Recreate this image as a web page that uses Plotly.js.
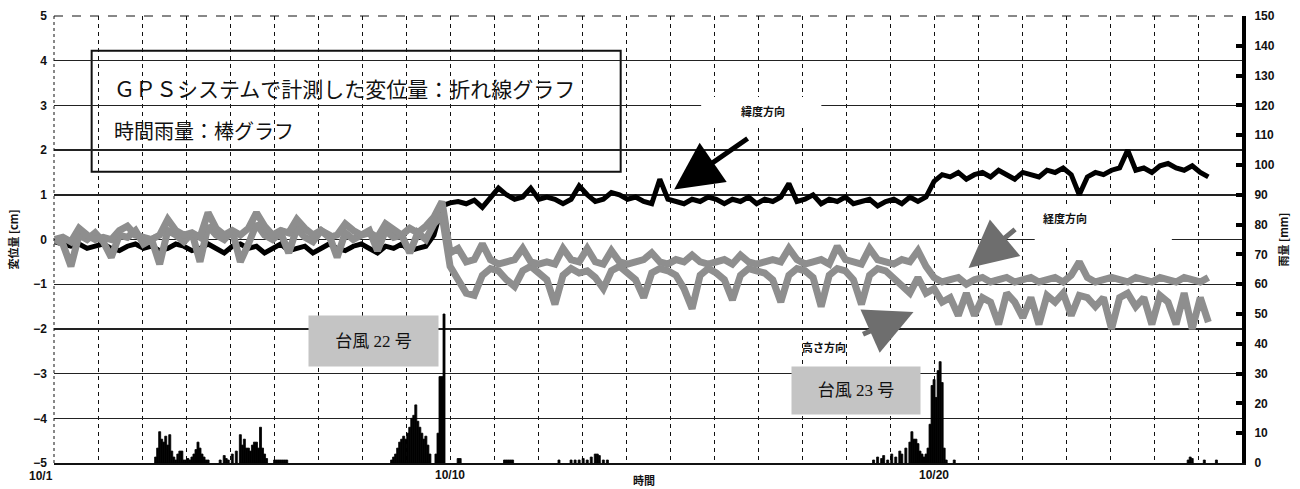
<!DOCTYPE html>
<html>
<head>
<meta charset="utf-8">
<script src="https://cdn.plot.ly/plotly-3.0.1.min.js"></script>
<style>html,body{margin:0;padding:0;background:#fff;}#chart{width:1300px;height:489px;}</style>
</head>
<body>
<div id="chart"></div>
<script>
// ---- time base (hours since 10/1 00:00), one GPS sample every 4 hours ----
const sampleStartHour = 20;
const sampleStepHour = 4;

// ---- GPS displacement [cm] ----
const latitudeCm = [
 -0.05,-0.1,-0.15,-0.1,-0.2,-0.15,-0.1,-0.2,-0.25,-0.15,-0.1,-0.2,
 -0.15,-0.25,-0.2,-0.1,-0.15,-0.25,-0.2,-0.1,-0.2,-0.3,-0.15,-0.1,
 -0.2,-0.15,-0.3,-0.2,-0.1,-0.25,-0.2,-0.15,-0.3,-0.2,-0.1,-0.2,
 -0.25,-0.15,-0.1,-0.2,-0.3,-0.15,-0.2,-0.1,-0.25,-0.2,-0.15,0.1,
 0.75,
 0.82,0.85,0.8,0.88,0.72,0.95,1.15,1.0,0.9,0.95,1.15,0.9,
 0.95,0.9,0.8,0.9,1.2,1.0,0.85,0.9,1.05,1.0,0.9,0.95,
 0.85,0.8,1.35,0.9,0.85,0.8,0.9,0.85,0.95,0.9,0.8,0.9,
 0.85,0.95,0.8,0.9,0.85,0.95,1.25,0.85,0.9,1.0,0.8,0.9,
 0.85,0.95,0.8,0.85,0.9,0.75,0.85,0.9,0.8,0.95,0.85,0.95,
 1.3,1.45,1.4,1.5,1.35,1.45,1.5,1.4,1.55,1.45,1.35,1.5,
 1.45,1.4,1.55,1.5,1.6,1.45,1.0,1.4,1.5,1.45,1.55,1.6,
 2.0,1.55,1.6,1.5,1.65,1.7,1.6,1.55,1.65,1.5,1.4
];
const longitudeCm = [
 0.0,0.05,-0.05,0.25,0.1,0.0,0.05,0.0,0.2,0.3,0.1,0.05,
 0.0,0.1,0.45,0.2,0.1,0.15,0.05,0.6,0.25,0.1,0.2,0.1,
 0.25,0.6,0.3,0.1,0.2,0.15,0.45,0.25,0.1,0.2,0.05,0.1,
 0.35,0.2,0.1,0.15,0.05,0.35,0.2,0.1,0.25,0.15,0.3,0.5,
 0.85,
 -0.3,-0.2,-0.5,-0.45,-0.1,-0.45,-0.55,-0.5,-0.45,-0.2,-0.5,-0.55,
 -0.5,-0.55,-0.2,-0.45,-0.5,-0.2,-0.5,-0.55,-0.25,-0.5,-0.55,-0.5,
 -0.45,-0.3,-0.5,-0.55,-0.45,-0.5,-0.35,-0.5,-0.55,-0.5,-0.45,-0.55,
 -0.35,-0.5,-0.55,-0.5,-0.45,-0.5,-0.2,-0.45,-0.55,-0.5,-0.45,-0.55,
 -0.15,-0.45,-0.5,-0.55,-0.2,-0.45,-0.5,-0.55,-0.45,-0.5,-0.25,-0.6,
 -0.85,-0.95,-0.9,-0.85,-1.0,-0.9,-0.85,-0.95,-0.9,-0.85,-0.95,-0.9,
 -0.85,-0.95,-0.9,-0.85,-0.95,-0.8,-0.5,-0.85,-0.95,-0.9,-0.85,-0.9,
 -0.95,-0.85,-0.9,-0.95,-0.85,-0.9,-0.95,-0.85,-0.9,-0.95,-0.85
];
const heightCm = [
 0.0,-0.1,-0.6,0.1,0.0,0.15,-0.05,-0.4,0.1,0.05,0.2,-0.1,
 0.0,-0.55,0.2,0.1,-0.05,0.15,-0.5,0.3,0.1,0.0,0.2,-0.5,
 -0.1,0.35,0.1,0.0,0.15,-0.3,0.25,0.05,-0.05,0.2,0.1,-0.4,
 0.15,0.0,0.1,0.2,-0.25,0.2,0.05,0.1,-0.3,0.15,0.0,0.35,
 0.55,
 -0.6,-0.9,-1.2,-1.25,-0.8,-0.65,-0.7,-0.9,-1.05,-0.7,-0.6,-0.75,
 -0.9,-1.45,-0.8,-0.65,-0.75,-0.7,-0.85,-1.1,-0.7,-0.6,-0.75,-0.9,
 -1.3,-0.75,-0.65,-0.7,-0.8,-1.1,-1.55,-0.8,-0.65,-0.75,-0.9,-1.35,
 -0.8,-0.65,-0.7,-0.75,-0.9,-1.4,-0.8,-0.65,-0.7,-0.85,-1.5,-0.8,
 -0.65,-0.7,-0.9,-1.45,-0.8,-0.65,-0.7,-0.85,-1.0,-1.2,-0.85,-1.2,
 -1.1,-1.4,-1.3,-1.7,-1.2,-1.7,-1.3,-1.4,-1.9,-1.2,-1.4,-1.75,
 -1.3,-1.9,-1.25,-1.4,-1.2,-1.7,-1.25,-1.3,-1.5,-1.3,-2.0,-1.3,
 -1.2,-1.5,-1.3,-1.9,-1.25,-1.4,-1.9,-1.2,-2.0,-1.3,-1.85
];

// ---- hourly rainfall [mm] ----
const rainHour = [
 70,71,72,73,74,75,76,77,78,79,80,81,82,83,84,85,86,87,88,89,90,91,92,93,94,95,96,
 102,104,105,106,108,110,112,113,114,115,116,117,118,119,120,121,122,123,124,125,
 129,130,131,132,133,134,135,
 187,188,189,190,191,192,193,194,195,196,197,198,199,200,201,202,203,204,205,206,
 209,210,211,212,213,
 220,221,243,244,245,246,247,270,
 276,278,280,282,284,286,288,289,290,292,294,
 426,428,430,431,433,435,437,439,440,442,444,445,446,447,448,449,450,451,452,453,454,455,456,457,458,459,460,461,462,
 466,582,583,584,590,596
];
const rainMM = [
 2,5,10.5,8,7,9,6,9.5,4,2,1,3,4,4,1,1,1.5,1,2,3,4.5,7,5,3,2,1,1,
 1,2.5,1.5,1,3,4,9.5,6,8,5,5,4,6,7,7,5,12,5,3,1.5,
 1,1,1,1,1,1,1,
 1,2,3,5,7,8,9,8,10,12,15,16,19.5,14,12,10,8,9,6,3,
 3,10,29,29,50,
 1.5,1.5,1,1,1,1,1,1,
 1,1,1,1.5,1,2,3,3,2.5,1,1,
 1,2,1.5,2.5,1,3,2,4,3,5,7,10.5,8,8,6.5,4,3,2,3,5,13,26,28,22,31,34,27,5,1,
 1,1,2,1.5,1,1
];

// ---- axis labels ----
const xTickLabelText = ['10/1', '10/10', '10/20'];
const xTickLabelHour = [6.2, 216, 456];
const xGridStartHour = 19.6;
const xGridStepHour = 21.818;
const xGridCount = 27;

const sampleHours = latitudeCm.map((_, i) => sampleStartHour + sampleStepHour * i);
const xRange = [xGridStartHour, xGridStartHour + xGridCount * xGridStepHour];

const gridVals = [], gridText = [];
for (let k = 0; k <= xGridCount; k++) {
  const h = xGridStartHour + k * xGridStepHour;
  gridVals.push(h);
  let t = '';
  xTickLabelHour.forEach((lh, j) => { if (Math.abs(lh - h) < 1) t = xTickLabelText[j]; });
  gridText.push(t);
}
const firstLabelPaperX = (xTickLabelHour[0] - xRange[0]) / (xRange[1] - xRange[0]);

const tickFont = {family: 'Liberation Sans, Arial, sans-serif', size: 12, color: '#111', weight: 'bold'};
const cjkSmall = {family: 'Noto Sans CJK JP, sans-serif', size: 11, color: '#111', weight: 'bold'};
const grayLine = '#8e8e8e';

const traces = [
  {type: 'bar', x: rainHour, y: rainMM, yaxis: 'y2', width: 1, marker: {color: '#000', line: {width: 0.8, color: '#000'}}, name: '時間雨量'},
  {type: 'scatter', mode: 'lines', x: sampleHours, y: latitudeCm, line: {color: '#000', width: 5}, name: '緯度方向'},
  {type: 'scatter', mode: 'lines', x: sampleHours, y: heightCm, line: {color: grayLine, width: 7}, name: '高さ方向'},
  {type: 'scatter', mode: 'lines', x: sampleHours, y: longitudeCm, line: {color: grayLine, width: 7}, name: '経度方向'}
];

const boxFont1 = {family: 'Liberation Serif, Noto Sans CJK JP, serif', size: 21, color: '#111'};
const boxFont2 = {family: 'Liberation Serif, Noto Sans CJK JP, serif', size: 20, color: '#111'};
const typhoonFont = {family: 'Liberation Serif, Noto Sans CJK JP, serif', size: 17, color: '#111'};

const layout = {
  width: 1300, height: 489,
  margin: {l: 54, r: 58, t: 16, b: 26},
  paper_bgcolor: '#fff', plot_bgcolor: '#fff',
  showlegend: false,
  bargap: 0,
  xaxis: {
    range: xRange,
    tickmode: 'array', tickvals: gridVals, ticktext: gridText,
    showgrid: true, gridcolor: '#111', gridwidth: 1, griddash: '4px,4px',
    zeroline: false, showline: true, linecolor: '#111', linewidth: 1.5,
    ticks: '', tickfont: tickFont
  },
  yaxis: {
    range: [-5, 5], dtick: 1, tick0: 0,
    showgrid: true, gridcolor: '#222', gridwidth: 1.4,
    zeroline: false, showline: false, ticks: '',
    tickfont: tickFont, ticklabelstandoff: 6,
    title: {text: '変位量 [cm]', font: cjkSmall, standoff: 12}
  },
  yaxis2: {
    overlaying: 'y', side: 'right', range: [0, 150], dtick: 10, tick0: 0,
    showgrid: false, zeroline: false,
    showline: true, linecolor: '#000', linewidth: 4,
    ticks: 'inside', ticklen: 6, tickwidth: 4, tickcolor: '#000',
    tickfont: tickFont, ticklabelstandoff: 6,
    title: {text: '雨量 [mm]', font: cjkSmall, standoff: 8}
  },
  shapes: [
    {type: 'line', xref: 'paper', yref: 'paper', x0: 0, x1: 0, y0: 0, y1: 1, line: {color: '#111', width: 1, dash: 'dot'}},
    {type: 'line', xref: 'paper', yref: 'paper', x0: 0, x1: 1, y0: 1, y1: 1, line: {color: '#111', width: 1, dash: 'dash'}},
    {type: 'rect', xref: 'x', yref: 'y', x0: 340.5, x1: 400.1, y0: 2.56, y1: 3.19, fillcolor: '#fff', line: {width: 0}, layer: 'between'},
    {type: 'rect', xref: 'x', yref: 'y', x0: 505.9, x1: 573.9, y0: -0.15, y1: 0.77, fillcolor: '#fff', line: {width: 0}, layer: 'between'},
    {type: 'rect', xref: 'paper', yref: 'paper', x0: 0.0317, x1: 0.477, y0: 0.6517, y1: 0.9224, fillcolor: '#fff', line: {color: '#111', width: 2}, layer: 'between'}
  ],
  annotations: [
    {xref: 'paper', yref: 'paper', x: 0.0488, y: 0.834, xanchor: 'left', yanchor: 'middle', showarrow: false,
     text: 'ＧＰＳシステムで計測した変位量：折れ線グラフ', font: boxFont1},
    {xref: 'paper', yref: 'paper', x: 0.0488, y: 0.7405, xanchor: 'left', yanchor: 'middle', showarrow: false,
     text: '時間雨量：棒グラフ', font: boxFont2},
    {x: 371.3, y: 2.87, xref: 'x', yref: 'y', showarrow: false, text: '緯度方向', font: cjkSmall},
    {x: 520.8, y: 0.48, xref: 'x', yref: 'y', showarrow: false, text: '経度方向', font: cjkSmall},
    {x: 401.6, y: -2.40, xref: 'x', yref: 'y', showarrow: false, text: '高さ方向', font: cjkSmall},
    {x: 327.1, y: 1.12, xref: 'x', yref: 'y', ax: 75, ay: -52, text: '', showarrow: true,
     arrowhead: 2, arrowsize: 1.9, arrowwidth: 5, arrowcolor: '#000', standoff: 0},
    {x: 473.1, y: -0.64, xref: 'x', yref: 'y', ax: 48, ay: -40, text: '', showarrow: true,
     arrowhead: 2, arrowsize: 1.9, arrowwidth: 5, arrowcolor: '#6e6e6e', standoff: 0},
    {x: 445.8, y: -1.62, xref: 'x', yref: 'y', ax: -52, ay: 23, text: '', showarrow: true,
     arrowhead: 2, arrowsize: 1.9, arrowwidth: 5, arrowcolor: '#6e6e6e', standoff: 0},
    {x: 178.0, y: -2.27, xref: 'x', yref: 'y', showarrow: false, text: '台風 22 号', font: typhoonFont,
     bgcolor: '#c4c4c4', width: 127, height: 48},
    {x: 417.5, y: -3.37, xref: 'x', yref: 'y', showarrow: false, text: '台風 23 号', font: typhoonFont,
     bgcolor: '#c4c4c4', width: 126, height: 45},
    {x: firstLabelPaperX, y: 0, xref: 'paper', yref: 'paper', yanchor: 'middle', yshift: -13, showarrow: false,
     text: xTickLabelText[0], font: tickFont},
    {x: 312.2, y: 0, xref: 'x', yref: 'paper', yanchor: 'middle', yshift: -17, showarrow: false,
     text: '時間', font: cjkSmall}
  ]
};

Plotly.newPlot('chart', traces, layout, {displayModeBar: false, staticPlot: true});
</script>
</body>
</html>
